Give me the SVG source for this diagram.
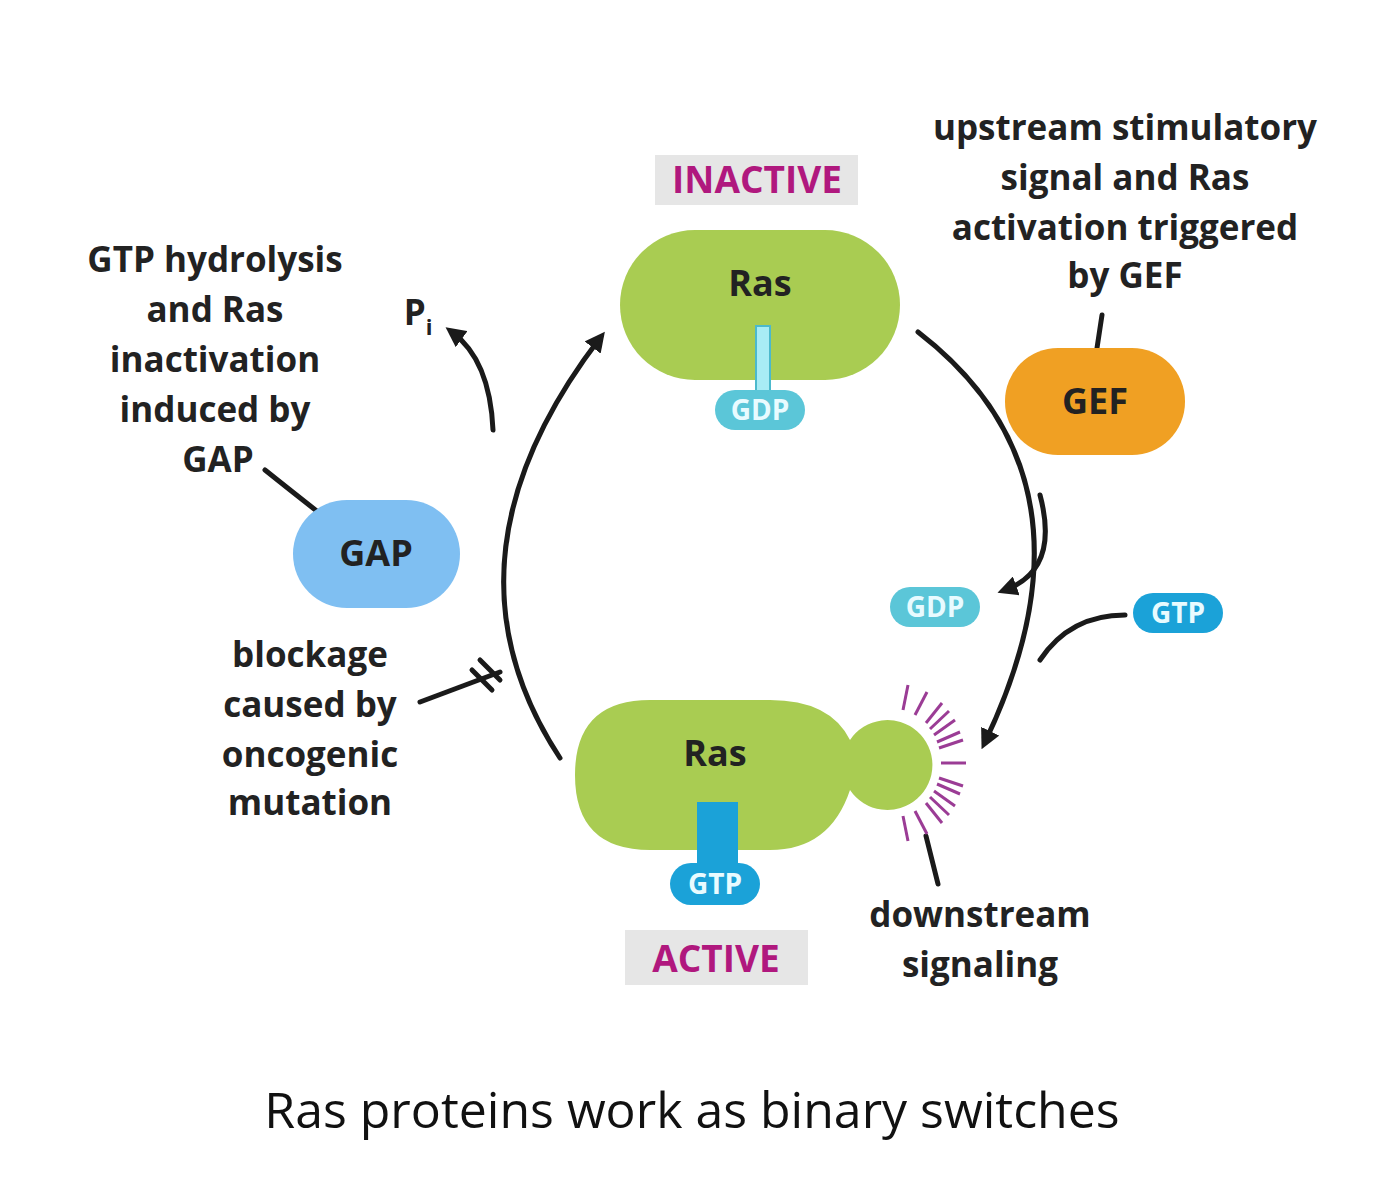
<svg xmlns="http://www.w3.org/2000/svg" width="1382" height="1200" viewBox="0 0 1382 1200">
<defs>
<style>
.t{font-family:"Open Sans","Liberation Sans",sans-serif;font-weight:bold;font-size:35px;fill:#222;text-anchor:middle}
.st{font-family:"Open Sans","Liberation Sans",sans-serif;font-weight:bold;font-size:37px;fill:#b0187e;text-anchor:middle}
.n{font-family:"Open Sans","Liberation Sans",sans-serif;font-weight:bold;font-size:36px;fill:#222;text-anchor:middle}
.nuc{font-family:"Open Sans","Liberation Sans",sans-serif;font-weight:bold;font-size:28px;fill:#e8fbff;text-anchor:middle}
.c{fill:none;stroke:#1a1a1a;stroke-width:5;stroke-linecap:round}
.sp{stroke:#9b3c95;stroke-width:3}
</style>
<marker id="ah" viewBox="0 0 10 10" refX="6" refY="5" markerWidth="4" markerHeight="4" orient="auto-start-reverse"><path d="M0,0 L10,5 L0,10 z" fill="#1a1a1a"/></marker>
</defs>
<rect width="1382" height="1200" fill="#fff"/>
<g id="connectors">
<path class="c" d="M560,758 Q430,560 600,338" marker-end="url(#ah)"/>
<path class="c" d="M918,332 Q1110,480 985,742" marker-end="url(#ah)"/>
<path class="c" d="M493,430 Q490,360 452,332" marker-end="url(#ah)"/>
<path class="c" d="M1040,495 Q1060,570 1005,590" marker-end="url(#ah)"/>
<path class="c" d="M1125,615 Q1070,615 1040,660"/>
<path class="c" d="M265,470 Q290,490 318,512"/>
<path class="c" d="M1102,315 L1097,348"/>
<path class="c" d="M420,702 L500,672"/>
<path class="c" d="M472,670 L492,690 M480,660 L500,680" stroke-width="4"/>
<path class="c" d="M926,836 L938,884"/>
</g>
<g id="inactive-label"><rect x="655" y="155" width="203" height="50" fill="#e6e6e6"/><text class="st" x="757" y="193">INACTIVE</text></g>
<g id="ras-inactive">
<rect x="620" y="230" width="280" height="150" rx="75" fill="#a9cc52"/>
<text class="n" x="760" y="296">Ras</text>
<rect x="756" y="326" width="14" height="72" fill="#a8ecf5" stroke="#4cb9cc" stroke-width="2"/>
<rect x="715" y="390" width="90" height="40" rx="20" fill="#5bc6d8"/>
<text class="nuc" x="760" y="420">GDP</text>
</g>
<g id="gef"><rect x="1005" y="348" width="180" height="107" rx="53" fill="#f0a023"/><text class="n" x="1095" y="414">GEF</text></g>
<g id="gap"><rect x="293" y="500" width="167" height="108" rx="54" fill="#7fbff2"/><text class="n" x="376" y="566">GAP</text></g>
<g id="gdp-free"><rect x="890" y="587" width="90" height="40" rx="20" fill="#5bc6d8"/><text class="nuc" x="935" y="617">GDP</text></g>
<g id="gtp-free"><rect x="1133" y="593" width="90" height="40" rx="20" fill="#1ba2d8"/><text class="nuc" x="1178" y="623">GTP</text></g>
<g id="ras-active">
<path d="M650,700 H770 Q830,700 850,740 A45,45 0 1 1 850,790 Q830,850 770,850 H650 Q575,850 575,775 Q575,700 650,700 Z" fill="#a9cc52"/>
<g class="sp">
<line x1="939" y1="778" x2="963" y2="786"/><line x1="941" y1="763" x2="966" y2="763"/><line x1="939" y1="748" x2="963" y2="740"/>
<line x1="934" y1="735" x2="955" y2="720"/><line x1="926" y1="723" x2="942" y2="703"/><line x1="915" y1="715" x2="927" y2="692"/><line x1="903" y1="710" x2="908" y2="685"/>
<line x1="934" y1="791" x2="955" y2="806"/><line x1="926" y1="803" x2="942" y2="823"/><line x1="915" y1="811" x2="927" y2="834"/><line x1="903" y1="816" x2="908" y2="841"/>
<line x1="937" y1="742" x2="960" y2="732"/><line x1="937" y1="784" x2="960" y2="794"/><line x1="930" y1="729" x2="949" y2="711"/><line x1="930" y1="797" x2="949" y2="815"/>
</g>
<text class="n" x="715" y="766">Ras</text>
<rect x="697" y="802" width="41" height="66" fill="#1ba2d8"/>
<rect x="670" y="863" width="90" height="42" rx="21" fill="#1ba2d8"/>
<text class="nuc" x="715" y="894">GTP</text>
</g>
<g id="active-label"><rect x="625" y="930" width="183" height="55" fill="#e6e6e6"/><text class="st" x="716" y="972">ACTIVE</text></g>
<g id="labels">
<text class="t"><tspan x="215" y="272">GTP hydrolysis</tspan><tspan x="215" y="322">and Ras</tspan><tspan x="215" y="372">inactivation</tspan><tspan x="215" y="422">induced by</tspan><tspan x="218" y="472">GAP</tspan></text>
<text class="t" x="418" y="325">P<tspan font-size="22" dy="10">i</tspan></text>
<text class="t"><tspan x="1125" y="140">upstream stimulatory</tspan><tspan x="1125" y="190">signal and Ras</tspan><tspan x="1125" y="240">activation triggered</tspan><tspan x="1125" y="288">by GEF</tspan></text>
<text class="t"><tspan x="310" y="667">blockage</tspan><tspan x="310" y="717">caused by</tspan><tspan x="310" y="767">oncogenic</tspan><tspan x="310" y="815">mutation</tspan></text>
<text class="t"><tspan x="980" y="927">downstream</tspan><tspan x="980" y="977">signaling</tspan></text>
<text x="692" y="1128" font-family="'Open Sans','Liberation Sans',sans-serif" font-size="50" fill="#111" text-anchor="middle">Ras proteins work as binary switches</text>
</g>
</svg>
